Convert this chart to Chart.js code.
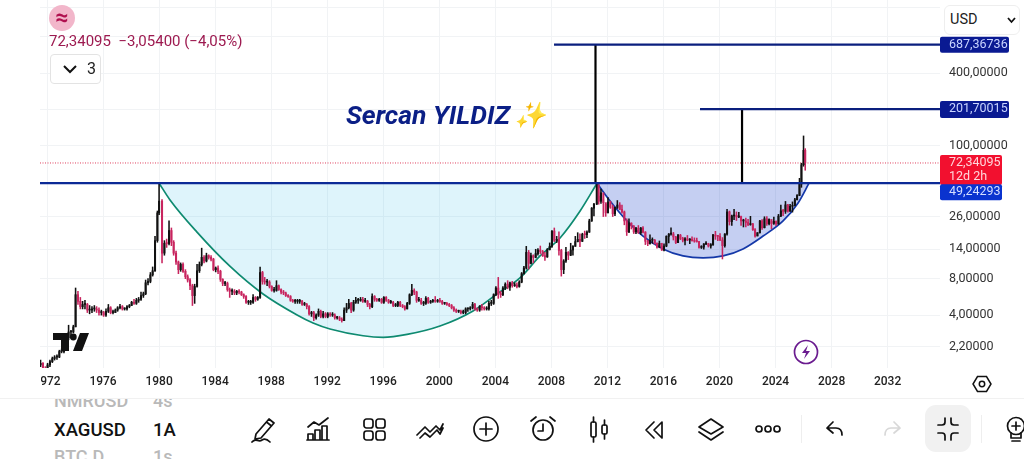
<!DOCTYPE html>
<html>
<head>
<meta charset="utf-8">
<script src="https://cdn.jsdelivr.net/npm/chart.js@4"></script>
<style>
  html, body { margin: 0; padding: 0; background: #fff; }
  body { width: 1024px; height: 460px; overflow: hidden; position: relative; font-family: Roboto, sans-serif; }
  canvas { position: absolute; left: 0; top: 0; }
  .abs { position: absolute; }
  .icon { position: absolute; top: 415px; width: 28px; height: 28px; fill: none; stroke: #111; stroke-width: 1.7; stroke-linecap: round; stroke-linejoin: round; }
</style>
</head>
<body>
<canvas id="chart" width="1024" height="460"></canvas>

<!-- hides the first letter of the 1972 label, as on the phone screen -->
<div class="abs" style="left:0;top:372px;width:40.5px;height:24px;background:#fff"></div>

<div class="abs" style="left:49px;top:5px;width:26px;height:26px;border-radius:50%;background:#f2b6ca;color:#b0104f;font:700 23px/25px Roboto;text-align:center">≈</div>
<div class="abs" style="left:49px;top:32px;color:#9d1a50;font:15px/18px Roboto;white-space:pre">72,34095  −3,05400 (−4,05%)</div>
<div class="abs" style="left:50px;top:54px;width:49px;height:28px;border:1px solid #e3e3e3;border-radius:4px;background:#fff">
  <svg class="abs" style="left:11px;top:9px" width="16" height="11" viewBox="0 0 16 11"><path d="M2 2 L8 8 L14 2" fill="none" stroke="#111" stroke-width="2"/></svg>
  <span class="abs" style="left:36px;top:4px;font:16px/20px Roboto;color:#222">3</span>
</div>
<div class="abs" style="left:346px;top:98px;color:#0b1f86;font:italic 700 26.5px/34px Roboto;white-space:nowrap">Sercan YILDIZ <span style="margin-left:-3px;font-size:25.5px">✨</span></div>

<div class="abs" style="left:944px;top:5px;width:74px;height:28px;border:1px solid #eeeeee;border-radius:6px;background:#fff">
  <span class="abs" style="left:5px;top:5px;font:14.5px/18px Roboto;color:#222">USD</span>
  <svg class="abs" style="left:62px;top:11px" width="9" height="7" viewBox="0 0 9 7"><path d="M1 1 L4.5 5 L8 1" fill="none" stroke="#111" stroke-width="1.8"/></svg>
</div>

<!-- TradingView mark -->
<svg class="abs" style="left:53px;top:333px" width="37" height="19" viewBox="0 0 37 19"><path d="M0 0 H16 V18 H8 V7 H0 Z M27 0 H36 L29 18 H20 Z" fill="#111"/><circle cx="20.3" cy="4" r="3.4" fill="#111"/></svg>
<svg class="abs" style="left:793px;top:339px" width="26" height="26" viewBox="0 0 26 26"><circle cx="13" cy="13" r="11.5" fill="#fff" stroke="#6a1b8f" stroke-width="1.7"/><path d="M15 6 L9 14 H13 L11 20 L17 12 H13 Z" fill="#6a1b8f"/></svg>
<svg class="abs" style="left:972px;top:374px" width="20" height="20" viewBox="0 0 20 20"><path d="M5.5 2.5 H14.5 L19 10 L14.5 17.5 H5.5 L1 10 Z" fill="none" stroke="#111" stroke-width="1.5"/><circle cx="10" cy="10" r="2.7" fill="none" stroke="#111" stroke-width="1.5"/></svg>

<!-- bottom toolbar -->
<div class="abs" style="left:0;top:398px;width:1024px;height:60px;background:#fff;border-top:1px solid #f1f1f1;overflow:hidden">
  <div class="abs" style="left:54px;top:-8px;color:#b9b9b9;font:500 18px/20px Roboto;white-space:pre">NMRUSD</div>
  <div class="abs" style="left:153px;top:-8px;color:#b9b9b9;font:500 18px/20px Roboto">4s</div>
  <div class="abs" style="left:54px;top:20px;color:#111;font:500 18.5px/22px Roboto">XAGUSD</div>
  <div class="abs" style="left:153px;top:20px;color:#111;font:500 18.5px/22px Roboto">1A</div>
  <div class="abs" style="left:54px;top:48px;color:#b9b9b9;font:500 18px/20px Roboto">BTC.D</div>
  <div class="abs" style="left:153px;top:48px;color:#b9b9b9;font:500 18px/20px Roboto">1s</div>
</div>
<div class="abs" style="left:925px;top:405px;width:46px;height:47px;border-radius:11px;background:#f1f1f1"></div>
<div class="abs" style="left:801px;top:415px;width:1px;height:28px;background:#eeeeee"></div>
<div class="abs" style="left:981px;top:415px;width:1px;height:28px;background:#eeeeee"></div>
<svg class="icon" style="left:249px" viewBox="0 0 28 28"><path d="M7 19 L20 4 L25 8 L12 23 L6 24 Z M17.5 7 L22.5 11 M3 27 C7 22 9 28 13 25 C16 23 19 25 21 27"/></svg>
<svg class="icon" style="left:304px" viewBox="0 0 28 28"><path d="M4 12 L10 7 L15 10 L24 3 M3 25 H25 M4 25 V19 H9 V25 M11 25 V15 H16 V25 M18 25 V11 H23 V25"/></svg>
<svg class="icon" style="left:360px" viewBox="0 0 28 28"><rect x="4" y="4" width="9" height="9" rx="2.5"/><rect x="16" y="4" width="9" height="9" rx="2.5"/><rect x="4" y="16" width="9" height="9" rx="2.5"/><rect x="16" y="16" width="9" height="9" rx="2.5"/></svg>
<svg class="icon" style="left:416px" viewBox="0 0 28 28"><path d="M1 20 L9 12 L14 17 L20 11 L24 15 L27 9 M4 23 L9 18 L14 22 L21 15 L24 19 L27 13"/></svg>
<svg class="icon" style="left:472px" viewBox="0 0 28 28"><circle cx="14" cy="14" r="12"/><path d="M14 8 V20 M8 14 H20"/></svg>
<svg class="icon" style="left:529px" viewBox="0 0 28 28"><circle cx="14" cy="15" r="10"/><path d="M14 9 V16 H9 M2 6 L7 2 M26 6 L21 2"/></svg>
<svg class="icon" style="left:585px" viewBox="0 0 28 28"><rect x="6" y="7" width="5" height="15" rx="1.5"/><rect x="17" y="10" width="5" height="9" rx="1.5"/><path d="M8.5 2 V7 M8.5 22 V27 M19.5 5 V10 M19.5 19 V24"/></svg>
<svg class="icon" style="left:641px" viewBox="0 0 28 28"><path d="M13 7 L5 15 L13 23 M21 7 L13 15 L21 23 Z"/></svg>
<svg class="icon" style="left:697px" viewBox="0 0 28 28"><path d="M14 4 L26 12 L14 19 L2 12 Z M2 17 L14 25 L26 17"/></svg>
<svg class="icon" style="left:754px" viewBox="0 0 28 28"><circle cx="5" cy="14" r="3"/><circle cx="14" cy="14" r="3"/><circle cx="23" cy="14" r="3"/></svg>
<svg class="icon" style="left:821px" viewBox="0 0 28 28"><path d="M12 7 L6 13 L12 18 M6 13 H15 C19 13 21 16 21 20"/></svg>
<svg class="icon" style="left:878px;stroke:#d8d8d8" viewBox="0 0 28 28"><path d="M16 7 L22 13 L16 18 M22 13 H13 C9 13 7 16 7 20"/></svg>
<svg class="icon" style="left:934px" viewBox="0 0 28 28"><path d="M11 3 V7 C11 9 10 10 8 10 H4 M17 3 V7 C17 9 18 10 20 10 H24 M11 25 V21 C11 19 10 18 8 18 H4 M17 25 V21 C17 19 18 18 20 18 H24"/></svg>
<svg class="icon" style="left:1003px" viewBox="0 0 28 28"><circle cx="13" cy="11" r="8.5"/><path d="M13 7 V15 M9 11 H17 M8 18 V23 H18 V18 M9 26 H17"/></svg>

<script>
// Silver monthly chart, every second candle
const xTickValues = [1972, 1976, 1980, 1984, 1988, 1992, 1996, 2000, 2004, 2008, 2012, 2016, 2020, 2024, 2028, 2032];
const yTickValues = [1400, 800, 400, 200, 100, 50, 26, 14, 8, 4, 2.2];
const yTickLabels = ['', '', '400,00000', '', '100,00000', '', '26,00000', '14,00000', '8,00000', '4,00000', '2,20000'];

const candleDates = [
  1971.54, 1971.71, 1971.88,
  1972.04, 1972.21, 1972.38, 1972.54, 1972.71, 1972.88,
  1973.04, 1973.21, 1973.38, 1973.54, 1973.71, 1973.88,
  1974.04, 1974.21, 1974.38, 1974.54, 1974.71, 1974.88,
  1975.04, 1975.21, 1975.38, 1975.54, 1975.71, 1975.88,
  1976.04, 1976.21, 1976.38, 1976.54, 1976.71, 1976.88,
  1977.04, 1977.21, 1977.38, 1977.54, 1977.71, 1977.88,
  1978.04, 1978.21, 1978.38, 1978.54, 1978.71, 1978.88,
  1979.04, 1979.21, 1979.38, 1979.54, 1979.71, 1979.88,
  1980.0, 1980.21, 1980.38, 1980.54, 1980.71, 1980.88,
  1981.04, 1981.21, 1981.38, 1981.54, 1981.71, 1981.88,
  1982.04, 1982.21, 1982.38, 1982.54, 1982.71, 1982.88,
  1983.04, 1983.21, 1983.38, 1983.54, 1983.71, 1983.88,
  1984.04, 1984.21, 1984.38, 1984.54, 1984.71, 1984.88,
  1985.04, 1985.21, 1985.38, 1985.54, 1985.71, 1985.88,
  1986.04, 1986.21, 1986.38, 1986.54, 1986.71, 1986.88,
  1987.04, 1987.21, 1987.38, 1987.54, 1987.71, 1987.88,
  1988.04, 1988.21, 1988.38, 1988.54, 1988.71, 1988.88,
  1989.04, 1989.21, 1989.38, 1989.54, 1989.71, 1989.88,
  1990.04, 1990.21, 1990.38, 1990.54, 1990.71, 1990.88,
  1991.04, 1991.21, 1991.38, 1991.54, 1991.71, 1991.88,
  1992.04, 1992.21, 1992.38, 1992.54, 1992.71, 1992.88,
  1993.04, 1993.21, 1993.38, 1993.54, 1993.71, 1993.88,
  1994.04, 1994.21, 1994.38, 1994.54, 1994.71, 1994.88,
  1995.04, 1995.21, 1995.38, 1995.54, 1995.71, 1995.88,
  1996.04, 1996.21, 1996.38, 1996.54, 1996.71, 1996.88,
  1997.04, 1997.21, 1997.38, 1997.54, 1997.71, 1997.88,
  1998.04, 1998.21, 1998.38, 1998.54, 1998.71, 1998.88,
  1999.04, 1999.21, 1999.38, 1999.54, 1999.71, 1999.88,
  2000.04, 2000.21, 2000.38, 2000.54, 2000.71, 2000.88,
  2001.04, 2001.21, 2001.38, 2001.54, 2001.71, 2001.88,
  2002.04, 2002.21, 2002.38, 2002.54, 2002.71, 2002.88,
  2003.04, 2003.21, 2003.38, 2003.54, 2003.71, 2003.88,
  2004.04, 2004.21, 2004.38, 2004.54, 2004.71, 2004.88,
  2005.04, 2005.21, 2005.38, 2005.54, 2005.71, 2005.88,
  2006.04, 2006.21, 2006.38, 2006.54, 2006.71, 2006.88,
  2007.04, 2007.21, 2007.38, 2007.54, 2007.71, 2007.88,
  2008.04, 2008.21, 2008.38, 2008.54, 2008.71, 2008.88,
  2009.04, 2009.21, 2009.38, 2009.54, 2009.71, 2009.88,
  2010.04, 2010.21, 2010.38, 2010.54, 2010.71, 2010.88,
  2011.04, 2011.24, 2011.38, 2011.54, 2011.71, 2011.88,
  2012.04, 2012.21, 2012.38, 2012.54, 2012.71, 2012.88,
  2013.04, 2013.21, 2013.38, 2013.54, 2013.71, 2013.88,
  2014.04, 2014.21, 2014.38, 2014.54, 2014.71, 2014.88,
  2015.04, 2015.21, 2015.38, 2015.54, 2015.71, 2015.88,
  2016.04, 2016.21, 2016.38, 2016.54, 2016.71, 2016.88,
  2017.04, 2017.21, 2017.38, 2017.54, 2017.71, 2017.88,
  2018.04, 2018.21, 2018.38, 2018.54, 2018.71, 2018.88,
  2019.04, 2019.21, 2019.38, 2019.54, 2019.71, 2019.88,
  2020.04, 2020.21, 2020.38, 2020.54, 2020.71, 2020.88,
  2021.04, 2021.21, 2021.38, 2021.54, 2021.71, 2021.88,
  2022.04, 2022.21, 2022.38, 2022.54, 2022.71, 2022.88,
  2023.04, 2023.21, 2023.38, 2023.54, 2023.71, 2023.88,
  2024.04, 2024.21, 2024.38, 2024.54, 2024.71, 2024.88,
  2025.04, 2025.21, 2025.38, 2025.54, 2025.71, 2025.85,
  2026.0, 2026.12
];
const candleOpen = [
  1.55, 1.60, 1.45,
  1.40, 1.55, 1.65, 1.75, 1.80, 1.80,
  2.0, 2.0, 2.2, 2.6, 2.9, 2.9,
  3.2, 5.9, 5.2, 4.7, 4.9, 4.9,
  4.4, 4.4, 4.5, 4.5, 4.4, 4.2,
  4.2, 4.0, 4.3, 4.6, 4.2, 4.2,
  4.4, 4.6, 4.7, 4.5, 4.5, 4.7,
  4.8, 5.1, 5.0, 5.3, 5.4, 5.8,
  6.0, 7.4, 7.6, 8.6, 9.3, 16.5,
  28, 35, 13, 15.7, 15.6, 20,
  16, 13, 11, 9.5, 10.5, 9.2,
  8.3, 7.8, 7.0, 5.8, 6.9, 9.3,
  10.5, 12, 11.2, 12.4, 12, 11.6,
  9.5, 9.8, 9.2, 7.9, 7.3, 7.3,
  6.5, 6.3, 6.3, 6.1, 6.3, 6.2,
  5.9, 5.7, 5.1, 5.1, 5.1, 5.6,
  5.4, 5.6, 9.0, 7.6, 7.5, 7.5,
  6.9, 6.4, 6.4, 7.0, 6.5, 6.2,
  6.1, 5.8, 5.7, 5.3, 5.2, 5.2,
  5.2, 5.2, 4.9, 4.9, 4.7, 4.1,
  4.2, 3.8, 4.0, 4.3, 3.9, 4.1,
  3.9, 4.1, 4.0, 4.0, 3.8, 3.8,
  3.7, 3.6, 4.4, 4.6, 5.0, 4.4,
  5.1, 5.3, 5.3, 5.4, 5.2, 5.2,
  4.9, 4.7, 5.7, 5.4, 5.3, 5.4,
  5.1, 5.6, 5.3, 5.1, 5.1, 4.8,
  4.8, 5.1, 4.8, 4.7, 4.5, 5.0,
  5.9, 6.4, 6.2, 5.3, 5.3, 5.0,
  5.0, 5.5, 5.1, 5.2, 5.3, 5.2,
  5.3, 5.2, 5.0, 5.0, 4.9, 4.8,
  4.6, 4.4, 4.3, 4.3, 4.2, 4.2,
  4.5, 4.5, 4.6, 4.9, 4.5, 4.4,
  4.7, 4.6, 4.5, 4.5, 5.0, 5.0,
  5.9, 6.7, 6.0, 5.9, 6.7, 7.2,
  6.8, 7.4, 7.0, 7.1, 6.9, 7.5,
  8.8, 9.8, 13.2, 10.7, 12.4, 12,
  12.9, 13.8, 13.4, 12.4, 12.1, 13.9,
  14.8, 19.8, 16.6, 16.9, 13.7, 9.5,
  11.2, 13.2, 12.5, 13.8, 14.8, 16.2,
  16.9, 16.3, 18.6, 18.5, 19.4, 24,
  30.6, 33, 48, 34.9, 41, 34,
  28, 34.5, 31.2, 27.5, 31, 32.5,
  29.9, 28.5, 24, 19.5, 23, 21.8,
  19.5, 20.9, 19.2, 21, 19.4, 16.3,
  15.6, 16.6, 16.6, 15.6, 14.6, 15.7,
  13.8, 14.9, 17.9, 18.7, 18.7, 17.7,
  15.9, 18.3, 17.2, 16.6, 17.1, 16.7,
  16.9, 16.5, 16.3, 16.2, 14.5, 14.6,
  15.5, 15.6, 14.9, 15.3, 18.4, 18,
  17.9, 16.7, 15, 18.7, 28.5, 23.7,
  26.4, 26.7, 25.9, 26.1, 24, 24,
  23.3, 22.4, 22.7, 20.3, 18, 19.2,
  24, 21.1, 25, 22.8, 24.7, 22.9,
  23.8, 22.7, 26.3, 29.1, 28.8, 32.6,
  28.9, 31.7, 32.3, 35.9, 39, 48.5,
  70, 92
];
const candleHigh = [
  1.70, 1.62, 1.50,
  1.60, 1.70, 1.80, 1.85, 1.88, 2.05,
  2.1, 2.3, 2.7, 3.3, 3.0, 3.3,
  6.7, 6.3, 5.6, 5.2, 5.3, 5.0,
  4.8, 4.7, 4.8, 4.7, 4.6, 4.4,
  4.3, 4.5, 4.9, 4.7, 4.4, 4.5,
  4.7, 4.9, 4.8, 4.6, 4.8, 4.9,
  5.2, 5.4, 5.5, 5.6, 6.2, 6.2,
  7.8, 8.0, 9.0, 10, 17.9, 29,
  49.24, 36, 16.5, 17, 24, 21,
  16.5, 13.5, 11.2, 10.8, 10.8, 9.5,
  8.6, 8.0, 7.2, 7.2, 10.5, 11,
  14.3, 12.4, 13, 12.6, 12.4, 11.8,
  10, 10.2, 9.4, 8.0, 7.6, 7.5,
  6.7, 6.6, 6.5, 6.4, 6.5, 6.3,
  6.0, 5.8, 5.3, 5.3, 5.9, 5.7,
  5.7, 10, 9.2, 8.2, 7.9, 7.7,
  7.0, 6.8, 7.7, 7.1, 6.6, 6.4,
  6.2, 5.9, 5.8, 5.4, 5.4, 5.4,
  5.4, 5.3, 5.1, 5.0, 4.8, 4.3,
  4.3, 4.1, 4.5, 4.4, 4.3, 4.2,
  4.2, 4.2, 4.2, 4.1, 3.9, 3.9,
  3.8, 4.6, 5.0, 5.4, 5.1, 5.3,
  5.6, 5.5, 5.6, 5.6, 5.5, 5.3,
  5.0, 6.0, 5.8, 5.5, 5.5, 5.5,
  5.7, 5.7, 5.4, 5.3, 5.2, 5.0,
  5.2, 5.2, 4.9, 4.8, 5.1, 6.0,
  7.2, 6.6, 6.3, 5.6, 5.5, 5.2,
  5.7, 5.6, 5.3, 5.4, 5.7, 5.4,
  5.5, 5.3, 5.1, 5.1, 5.0, 4.9,
  4.7, 4.5, 4.4, 4.4, 4.4, 4.6,
  4.6, 4.7, 5.1, 5.0, 4.6, 4.8,
  4.9, 4.7, 4.7, 5.2, 5.3, 6.0,
  6.9, 8.2, 6.3, 6.9, 7.4, 7.7,
  7.5, 7.6, 7.4, 7.4, 7.7, 9.0,
  10.1, 14.8, 13.7, 13, 12.6, 14,
  14.2, 14.9, 13.7, 13.2, 14.2, 15.8,
  20, 21, 17.9, 19.5, 14, 11.5,
  14.5, 13.4, 15.7, 15, 17.9, 19.2,
  18.8, 19, 19.8, 19.9, 24.8, 31,
  33.6, 49.2, 38.5, 44, 35.9, 33,
  37.5, 35, 32.5, 31.2, 35.4, 34,
  32.4, 29, 25, 25, 23.2, 22,
  21.3, 22, 21.2, 21.6, 19.6, 16.6,
  18.4, 17.4, 16.9, 15.8, 16.4, 14.8,
  15.5, 18.1, 18.9, 21.1, 19.3, 17.9,
  18.6, 18.6, 17.6, 17.5, 18.2, 17.2,
  17.7, 17.4, 17.3, 16.3, 15, 15.6,
  16.2, 15.7, 15.6, 18.6, 19.7, 18.2,
  18.9, 17.5, 18.9, 29.9, 29, 26.9,
  30, 28.5, 28.3, 26.3, 24.8, 25.4,
  24.7, 26.2, 22.9, 20.8, 19.2, 24.3,
  24.6, 26, 26.1, 25, 23.7, 25.8,
  24, 27.2, 32.5, 29.9, 34.8, 33,
  33, 34.5, 37, 39.6, 54, 72,
  121, 95
];
const candleLow = [
  1.50, 1.42, 1.38,
  1.38, 1.50, 1.62, 1.70, 1.72, 1.78,
  1.95, 1.95, 2.15, 2.5, 2.7, 2.85,
  3.2, 4.9, 4.5, 4.5, 4.5, 4.2,
  4.1, 4.2, 4.3, 4.2, 4.0, 4.0,
  3.9, 3.9, 4.2, 4.1, 4.1, 4.2,
  4.3, 4.5, 4.4, 4.4, 4.4, 4.6,
  4.8, 4.9, 4.9, 5.1, 5.3, 5.6,
  5.9, 7.1, 7.4, 8.4, 9.2, 16,
  27, 10.8, 12.5, 14.5, 15.2, 15,
  12.5, 10.5, 8.8, 9.2, 9.0, 8.0,
  7.5, 6.5, 4.8, 5.0, 6.8, 9.0,
  10.2, 10.8, 11, 11.6, 11.2, 9.3,
  9.1, 8.8, 7.6, 7.0, 7.0, 6.3,
  5.6, 5.9, 5.9, 5.9, 6.0, 5.8,
  5.5, 5.0, 4.9, 4.9, 5.0, 5.2,
  5.3, 5.5, 7.2, 7.2, 7.0, 6.7,
  6.3, 6.2, 6.3, 6.4, 6.0, 5.9,
  5.7, 5.6, 5.2, 5.1, 5.0, 5.0,
  5.0, 4.8, 4.8, 4.5, 4.0, 3.9,
  3.6, 3.7, 3.9, 3.8, 3.8, 3.8,
  3.8, 3.9, 3.9, 3.7, 3.7, 3.6,
  3.5, 3.6, 4.2, 4.5, 4.2, 4.3,
  5.0, 5.0, 5.2, 5.1, 5.1, 4.7,
  4.5, 4.6, 5.2, 5.2, 5.2, 5.0,
  5.0, 5.2, 5.0, 5.0, 4.7, 4.7,
  4.7, 4.7, 4.6, 4.4, 4.5, 4.9,
  5.8, 5.9, 5.1, 5.2, 4.9, 4.8,
  4.9, 5.0, 5.0, 5.1, 5.1, 5.1,
  5.1, 4.9, 4.9, 4.8, 4.7, 4.5,
  4.3, 4.2, 4.2, 4.1, 4.1, 4.1,
  4.3, 4.4, 4.5, 4.4, 4.3, 4.3,
  4.4, 4.4, 4.4, 4.4, 4.8, 4.9,
  5.8, 5.5, 5.6, 5.8, 6.5, 6.6,
  6.4, 6.8, 6.9, 6.7, 6.8, 7.4,
  8.7, 9.6, 9.6, 10.6, 10.8, 11.9,
  12.5, 12.9, 12.2, 11.3, 12, 13.8,
  14.5, 16.2, 15.9, 12.5, 8.4, 8.8,
  10.9, 11.5, 12.4, 12.5, 14.8, 16.1,
  14.7, 16.2, 17.2, 17.5, 19.3, 23.8,
  26.4, 32.8, 33, 33.5, 26.1, 26.2,
  27.9, 30.5, 26.1, 26.5, 30.4, 29.7,
  27.8, 22.3, 18.2, 19.2, 20.6, 18.9,
  18.8, 18.9, 18.6, 19.1, 15.3, 15,
  15.4, 15.7, 15.4, 14.3, 14.4, 13.7,
  13.6, 14.7, 15.8, 18.3, 16.7, 15.6,
  15.9, 16.8, 16.1, 15.2, 16.5, 15.6,
  16.3, 16, 16, 14.3, 14.2, 14,
  15.3, 14.6, 14.3, 15.1, 16.9, 16.5,
  16.5, 11.64, 14.6, 18.3, 22.2, 22,
  24.6, 24.2, 25.5, 22, 21.4, 21.4,
  21.9, 22.1, 20, 17.6, 18.1, 19,
  20.4, 21, 22, 22.3, 20.7, 22.5,
  21.9, 22.5, 26, 26.5, 27.7, 28.3,
  28.8, 28.4, 32, 35.8, 38.8, 45.5,
  68, 63
];
const candleClose = [
  1.60, 1.45, 1.40,
  1.55, 1.65, 1.75, 1.80, 1.80, 2.0,
  2.0, 2.2, 2.6, 2.9, 2.9, 3.2,
  5.9, 5.2, 4.7, 4.9, 4.9, 4.4,
  4.4, 4.5, 4.5, 4.4, 4.2, 4.2,
  4.0, 4.3, 4.6, 4.2, 4.2, 4.4,
  4.6, 4.7, 4.5, 4.5, 4.7, 4.8,
  5.1, 5.0, 5.3, 5.4, 5.8, 6.0,
  7.4, 7.6, 8.6, 9.3, 16.5, 28,
  35, 13, 15.7, 15.6, 20, 16,
  13, 11, 9.5, 10.5, 9.2, 8.3,
  7.8, 7.0, 5.8, 6.9, 9.3, 10.5,
  12, 11.2, 12.4, 12, 11.6, 9.5,
  9.8, 9.2, 7.9, 7.3, 7.3, 6.5,
  6.3, 6.3, 6.1, 6.3, 6.2, 5.9,
  5.7, 5.1, 5.1, 5.1, 5.6, 5.4,
  5.6, 9.0, 7.6, 7.5, 7.5, 6.9,
  6.4, 6.4, 7.0, 6.5, 6.2, 6.1,
  5.8, 5.7, 5.3, 5.2, 5.2, 5.2,
  5.2, 4.9, 4.9, 4.7, 4.1, 4.2,
  3.8, 4.0, 4.3, 3.9, 4.1, 3.9,
  4.1, 4.0, 4.0, 3.8, 3.8, 3.7,
  3.6, 4.4, 4.6, 5.0, 4.4, 5.1,
  5.3, 5.3, 5.4, 5.2, 5.2, 4.9,
  4.7, 5.7, 5.4, 5.3, 5.4, 5.1,
  5.6, 5.3, 5.1, 5.1, 4.8, 4.8,
  5.1, 4.8, 4.7, 4.5, 5.0, 5.9,
  6.4, 6.2, 5.3, 5.3, 5.0, 5.0,
  5.5, 5.1, 5.2, 5.3, 5.2, 5.3,
  5.2, 5.0, 5.0, 4.9, 4.8, 4.6,
  4.4, 4.3, 4.3, 4.2, 4.2, 4.5,
  4.5, 4.6, 4.9, 4.5, 4.4, 4.7,
  4.6, 4.5, 4.5, 5.0, 5.0, 5.9,
  6.7, 6.0, 5.9, 6.7, 7.2, 6.8,
  7.4, 7.0, 7.1, 6.9, 7.5, 8.8,
  9.8, 13.2, 10.7, 12.4, 12, 12.9,
  13.8, 13.4, 12.4, 12.1, 13.9, 14.8,
  19.8, 16.6, 16.9, 13.7, 9.5, 11.2,
  13.2, 12.5, 13.8, 14.8, 16.2, 16.9,
  16.3, 18.6, 18.5, 19.4, 24, 30.6,
  33, 48, 34.9, 41, 34, 28,
  34.5, 31.2, 27.5, 31, 32.5, 29.9,
  28.5, 24, 19.5, 23, 21.8, 19.5,
  20.9, 19.2, 21, 19.4, 16.3, 15.6,
  16.6, 16.6, 15.6, 14.6, 15.7, 13.8,
  14.9, 17.9, 18.7, 18.7, 17.7, 15.9,
  18.3, 17.2, 16.6, 17.1, 16.7, 16.9,
  16.5, 16.3, 16.2, 14.5, 14.6, 15.5,
  15.6, 14.9, 15.3, 18.4, 18, 17.9,
  16.7, 15, 18.7, 28.5, 23.7, 26.4,
  26.7, 25.9, 26.1, 24, 24, 23.3,
  22.4, 22.7, 20.3, 18, 19.2, 24,
  21.1, 25, 22.8, 24.7, 22.9, 23.8,
  22.7, 26.3, 29.1, 28.8, 32.6, 28.9,
  31.7, 32.3, 35.9, 39, 48.5, 70,
  92, 72.34
];

// the two rounded "cups" drawn on the chart
const bigCupYears = [1980.0, 1980.78, 1982.69, 1985.07, 1987.42, 1989.85, 1990.99, 1992.2, 1994.56, 1995.99, 1997.7, 2000.05, 2002.41, 2004.12, 2005.76, 2007.19, 2008.62, 2010.05, 2011.26];
const bigCupPrices = [49.24, 35.8, 19.5, 10.1, 5.98, 4.01, 3.44, 3.07, 2.7, 2.62, 2.77, 3.25, 4.33, 5.98, 8.11, 12.33, 17.37, 29.0, 49.24];
const smallCupYears = [2011.26, 2012.19, 2013.4, 2014.54, 2015.97, 2017.4, 2018.83, 2020.25, 2021.68, 2023.11, 2024.54, 2025.61, 2026.39];
const smallCupPrices = [49.24, 35.1, 24.0, 18.0, 14.1, 12.33, 11.87, 12.33, 14.1, 18.0, 24.0, 33.8, 49.24];

const xMin = 1971.5, xMax = 2035.74;
const yMin = 1.462, yMax = 1608;
const neckline = 49.24293;
const lastPrice = 72.34095;
const target1 = 201.70015;
const target2 = 687.36736;

const wickData = candleDates.map((d, i) => ({ x: d, y: [candleLow[i], candleHigh[i]] }));
const bodyData = candleDates.map((d, i) => ({ x: d, y: [candleOpen[i], candleClose[i]] }));
const bodyColors = candleDates.map((d, i) => candleClose[i] >= candleOpen[i] ? '#111111' : '#c8255f');

function straight(x1, y1, x2, y2, color, width, order, dash) {
    return {
        type: 'line',
        data: [{ x: x1, y: y1 }, { x: x2, y: y2 }],
        borderColor: color,
        borderWidth: width,
        borderDash: dash || [],
        pointRadius: 0,
        order: order
    };
}

function cup(xs, ys, lineColor, fillColor) {
    return {
        type: 'line',
        data: xs.map((x, i) => ({ x: x, y: ys[i] })),
        borderColor: lineColor,
        borderWidth: 1.7,
        backgroundColor: fillColor,
        fill: { target: { value: neckline } },
        cubicInterpolationMode: 'monotone',
        pointRadius: 0,
        order: 4
    };
}

// coloured price tags on the right axis
const tagPlugin = {
    id: 'tags',
    afterDraw(chart) {
        const ctx = chart.ctx;
        const y = chart.scales.y;
        const left = chart.chartArea.right;
        ctx.save();
        ctx.font = '12.5px Roboto';
        ctx.textAlign = 'left';
        ctx.textBaseline = 'middle';
        const tag = (value, shift, w, h, fill, textColor, lines) => {
            const py = y.getPixelForValue(value) + shift;
            ctx.fillStyle = fill;
            ctx.beginPath();
            ctx.roundRect(left, py - 8, w, h, 2);
            ctx.fill();
            ctx.fillStyle = textColor;
            lines.forEach((t, i) => ctx.fillText(t, left + 9, py + i * 14));
        };
        tag(target2, 0, 69, 16, '#0a1a92', '#c9d4ff', ['687,36736']);
        tag(target1, 0, 69, 17, '#0a1a92', '#c9d4ff', ['201,70015']);
        tag(lastPrice, 0, 62, 30, '#f2102f', '#ffd5da', ['72,34095', '12d 2h']);
        tag(neckline, 9, 62, 16, '#0a33cf', '#d5deff', ['49,24293']);
        ctx.restore();
    }
};

new Chart(document.getElementById('chart').getContext('2d'), {
    type: 'bar',
    data: {
        datasets: [
            straight(xMin, neckline, xMax, neckline, '#0c2a96', 2.2, 0),
            straight(2008.19, target2, xMax, target2, '#0a1f7e', 2.2, 0),
            straight(2018.61, target1, xMax, target1, '#0a1f7e', 2.2, 0),
            straight(2011.15, neckline, 2011.15, target2, '#000000', 2.2, 1),
            straight(2021.61, neckline, 2021.61, target1, '#000000', 2.2, 1),
            straight(xMin, lastPrice, xMax, lastPrice, '#e0405f', 1, 6, [1, 1.5]),
            cup(bigCupYears, bigCupPrices, '#0e8a70', 'rgba(80,195,235,0.19)'),
            cup(smallCupYears, smallCupPrices, '#1438a8', 'rgba(25,65,205,0.25)'),
            { type: 'bar', data: bodyData, backgroundColor: bodyColors, barThickness: 1.4, minBarLength: 1, order: 2 },
            { type: 'bar', data: wickData, backgroundColor: bodyColors, barThickness: 0.9, order: 3 }
        ]
    },
    options: {
        responsive: false,
        animation: false,
        layout: { autoPadding: false, padding: { left: 40, right: 0, top: 0, bottom: 60 } },
        plugins: { legend: { display: false }, tooltip: { enabled: false } },
        datasets: { bar: { grouped: false } },
        scales: {
            x: {
                type: 'linear',
                min: xMin,
                max: xMax,
                offset: false,
                afterBuildTicks: s => { s.ticks = xTickValues.map(v => ({ value: v })); },
                afterFit: s => { s.height = 32; s.paddingLeft = 0; s.paddingRight = 0; },
                grid: { color: '#f1f3f5', offset: false, drawTicks: false },
                border: { display: false },
                ticks: {
                    autoSkip: false,
                    maxRotation: 0,
                    padding: 7,
                    color: '#222222',
                    font: { family: 'Roboto', size: 12, weight: '500' },
                    callback: v => String(v)
                }
            },
            y: {
                type: 'logarithmic',
                position: 'right',
                min: yMin,
                max: yMax,
                afterBuildTicks: s => { s.ticks = yTickValues.map(v => ({ value: v })); },
                afterFit: s => { s.width = 84; s.paddingTop = 0; s.paddingBottom = 0; },
                grid: { color: '#f1f3f5', drawTicks: false },
                border: { display: false },
                ticks: {
                    autoSkip: false,
                    padding: 9,
                    color: '#333333',
                    font: { family: 'Roboto', size: 12.5 },
                    callback: (v, i) => yTickLabels[i]
                }
            }
        }
    },
    plugins: [tagPlugin]
});
</script>
</body>
</html>
